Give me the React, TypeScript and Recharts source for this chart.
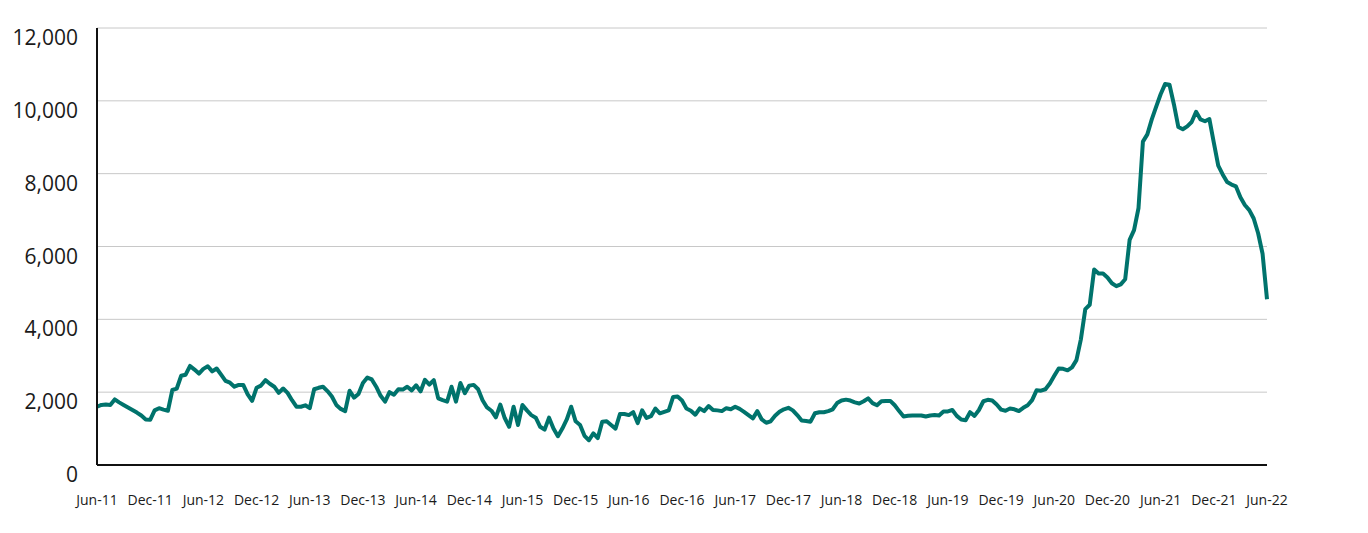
import { CartesianGrid, Line, LineChart, XAxis, YAxis } from "recharts";

// semi-monthly readings, first value = early Jun 2011
const y2011 = [1600, 1650, 1660, 1650, 1800, 1720, 1650, 1580, 1510, 1440, 1360, 1250, 1240, 1500];
const y2012 = [1560, 1520, 1490, 2060, 2100, 2450, 2480, 2720, 2620, 2510, 2640, 2710, 2570, 2650, 2480, 2310, 2260, 2150, 2200, 2200, 1940, 1760, 2120, 2180];
const y2013 = [2330, 2230, 2150, 1980, 2100, 1980, 1780, 1600, 1600, 1640, 1560, 2080, 2120, 2150, 2030, 1880, 1650, 1540, 1480, 2040, 1850, 1950, 2250, 2400];
const y2014 = [2350, 2150, 1900, 1740, 2000, 1930, 2080, 2070, 2150, 2050, 2190, 2020, 2340, 2210, 2330, 1830, 1780, 1740, 2150, 1740, 2250, 1970, 2180, 2200];
const y2015 = [2080, 1780, 1580, 1490, 1310, 1660, 1290, 1050, 1600, 1100, 1650, 1500, 1370, 1300, 1050, 970, 1300, 1000, 790, 1000, 1250, 1600, 1200, 1100];
const y2016 = [800, 680, 870, 740, 1190, 1200, 1100, 1000, 1400, 1400, 1370, 1450, 1150, 1500, 1290, 1340, 1550, 1420, 1460, 1500, 1870, 1880, 1770, 1550];
const y2017 = [1490, 1380, 1556, 1480, 1620, 1510, 1500, 1480, 1560, 1530, 1600, 1540, 1460, 1370, 1280, 1480, 1250, 1160, 1200, 1350, 1460, 1530, 1570, 1500];
const y2018 = [1370, 1220, 1210, 1190, 1420, 1450, 1450, 1480, 1530, 1700, 1770, 1795, 1770, 1720, 1690, 1750, 1830, 1700, 1640, 1750, 1760, 1760, 1640, 1480];
const y2019 = [1330, 1350, 1360, 1360, 1360, 1330, 1360, 1370, 1360, 1470, 1470, 1510, 1350, 1250, 1230, 1450, 1350, 1510, 1750, 1790, 1770, 1660, 1520, 1490];
const y2020 = [1550, 1530, 1480, 1570, 1640, 1780, 2050, 2040, 2080, 2240, 2450, 2650, 2640, 2600, 2680, 2880, 3450, 4280, 4400, 5370, 5260, 5260, 5150, 4990];
const y2021 = [4910, 4960, 5100, 6180, 6450, 7050, 8880, 9080, 9490, 9840, 10180, 10460, 10440, 9900, 9280, 9220, 9300, 9420, 9700, 9490, 9440, 9500, 8850, 8220];
const y2022 = [7980, 7770, 7700, 7650, 7350, 7140, 7000, 6770, 6364, 5800, 4550];

const tickLabels = [
  "Jun-11", "Dec-11", "Jun-12", "Dec-12", "Jun-13", "Dec-13", "Jun-14", "Dec-14",
  "Jun-15", "Dec-15", "Jun-16", "Dec-16", "Jun-17", "Dec-17", "Jun-18", "Dec-18",
  "Jun-19", "Dec-19", "Jun-20", "Dec-20", "Jun-21", "Dec-21", "Jun-22",
];
const yTicks = [0, 2000, 4000, 6000, 8000, 10000, 12000];

const values = [...y2011, ...y2012, ...y2013, ...y2014, ...y2015, ...y2016, ...y2017, ...y2018, ...y2019, ...y2020, ...y2021, ...y2022];
const rows = values.map((v, i) => ({ i, v }));
const xTicks = tickLabels.map((_, k) => k * 12);

const FONT = "'Open Sans', sans-serif";

function YTick({ x, y, payload }: any) {
  return (
    <text x={x} y={y + 9} textAnchor="end" dominantBaseline="central" fontSize={21} fill="#1a1a1a" fontFamily={FONT}>
      {Number(payload.value).toLocaleString("en-US")}
    </text>
  );
}

function XTick({ x, y, payload }: any) {
  return (
    <text x={x} y={y} dy="0.71em" textAnchor="middle" fontSize={14} fill="#1a1a1a" fontFamily={FONT}>
      {tickLabels[Math.round(payload.value / 12)]}
    </text>
  );
}

export default function App() {
  return (
    <div style={{ position: "absolute", left: 0, top: 0, background: "#fff" }}>
      <LineChart width={1368} height={533} data={rows} margin={{ top: 28, right: 101, left: 0, bottom: 0 }}>
        <CartesianGrid vertical={false} stroke="#c8c8c8" strokeWidth={1} />
        <XAxis
          dataKey="i"
          type="number"
          domain={[0, 264]}
          ticks={xTicks}
          interval={0}
          height={68}
          tickSize={0}
          tickMargin={30}
          tick={<XTick />}
          axisLine={{ stroke: "#111", strokeWidth: 2 }}
        />
        <YAxis
          domain={[0, 12000]}
          ticks={yTicks}
          interval={0}
          width={97}
          tickSize={0}
          tickMargin={19}
          tick={<YTick />}
          axisLine={{ stroke: "#111", strokeWidth: 2 }}
        />
        <Line
          type="linear"
          dataKey="v"
          stroke="#00736c"
          strokeWidth={4}
          strokeLinejoin="round"
          dot={false}
          isAnimationActive={false}
        />
      </LineChart>
    </div>
  );
}
